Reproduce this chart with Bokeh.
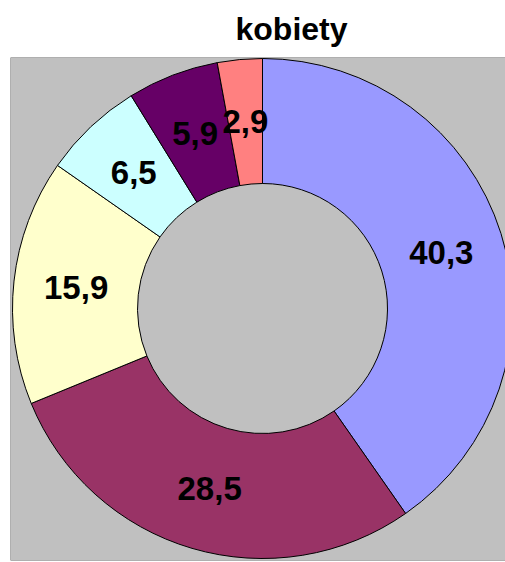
import math
from bokeh.plotting import figure
from bokeh.models import Range1d, ColumnDataSource, Span
from bokeh.core.properties import value
from bokeh.embed import file_html
from bokeh.resources import INLINE

# ---- data ----
title_text = "kobiety"
values = [40.3, 28.5, 15.9, 6.5, 5.9, 2.9]
colors = ["#9999FF", "#993366", "#FFFFCC", "#CCFFFF", "#660066", "#FF8080"]

# ---- layout (pixels) ----
W, H = 505, 562
frame_left, frame_top, frame_bottom = 10, 57, 2
frame_w = W - frame_left
frame_h = H - frame_top - frame_bottom
R_PX = 250.0          # outer radius in px
cx_px, cy_px = 252.0, 252.0   # donut centre measured from frame left / bottom
outer, inner = 1.0, 0.5

total = sum(values)
starts, ends, lx, ly, labels = [], [], [], [], []
cum = 0.0
for v in values:
    a0 = math.pi / 2 - 2 * math.pi * cum / total
    cum += v
    a1 = math.pi / 2 - 2 * math.pi * cum / total
    starts.append(a1)
    ends.append(a0)
    mid = (a0 + a1) / 2
    rm = (outer + inner) / 2
    lx.append(rm * math.cos(mid))
    ly.append(rm * math.sin(mid))
    labels.append(f"{v:.1f}".replace(".", ","))

src = ColumnDataSource(dict(start=starts, end=ends, color=colors,
                            lx=lx, ly=ly, label=labels))

x0, x1 = -cx_px / R_PX, (frame_w - cx_px) / R_PX
y0, y1 = -cy_px / R_PX, (frame_h - cy_px) / R_PX

p = figure(width=W, height=H, output_backend="svg", toolbar_location=None,
           x_range=Range1d(x0, x1), y_range=Range1d(y0, y1),
           min_border_left=frame_left, min_border_right=0,
           min_border_top=frame_top, min_border_bottom=frame_bottom)
p.axis.visible = False
p.grid.visible = False
p.background_fill_color = "#C0C0C0"
p.border_fill_color = "white"
p.outline_line_color = None

# plot-area border on left, top and bottom (right edge lies outside the view)
for loc, dim in ((x0, "height"), (y1, "width"), (y0, "width")):
    p.add_layout(Span(location=loc, dimension=dim, line_color="#808080", line_width=1))

p.title.text = title_text
p.title.align = "left"
p.title.vertical_align = "top"
p.title.offset = 225
p.title.text_font = "Liberation Sans"
p.title.text_font_size = "32px"
p.title.text_font_style = "bold"
p.title.text_color = "black"
p.title.standoff = 17

p.annular_wedge(x=0, y=0, inner_radius=inner, outer_radius=outer,
                start_angle="start", end_angle="end", direction="anticlock",
                fill_color="color", line_color="black", line_width=1, source=src)

p.text(x="lx", y="ly", text="label", source=src,
       text_font=value("Liberation Sans"), text_font_size="33px",
       text_font_style="bold", text_color="black",
       text_align="center", text_baseline="middle")

open("out.html", "w").write(file_html(p, INLINE))
